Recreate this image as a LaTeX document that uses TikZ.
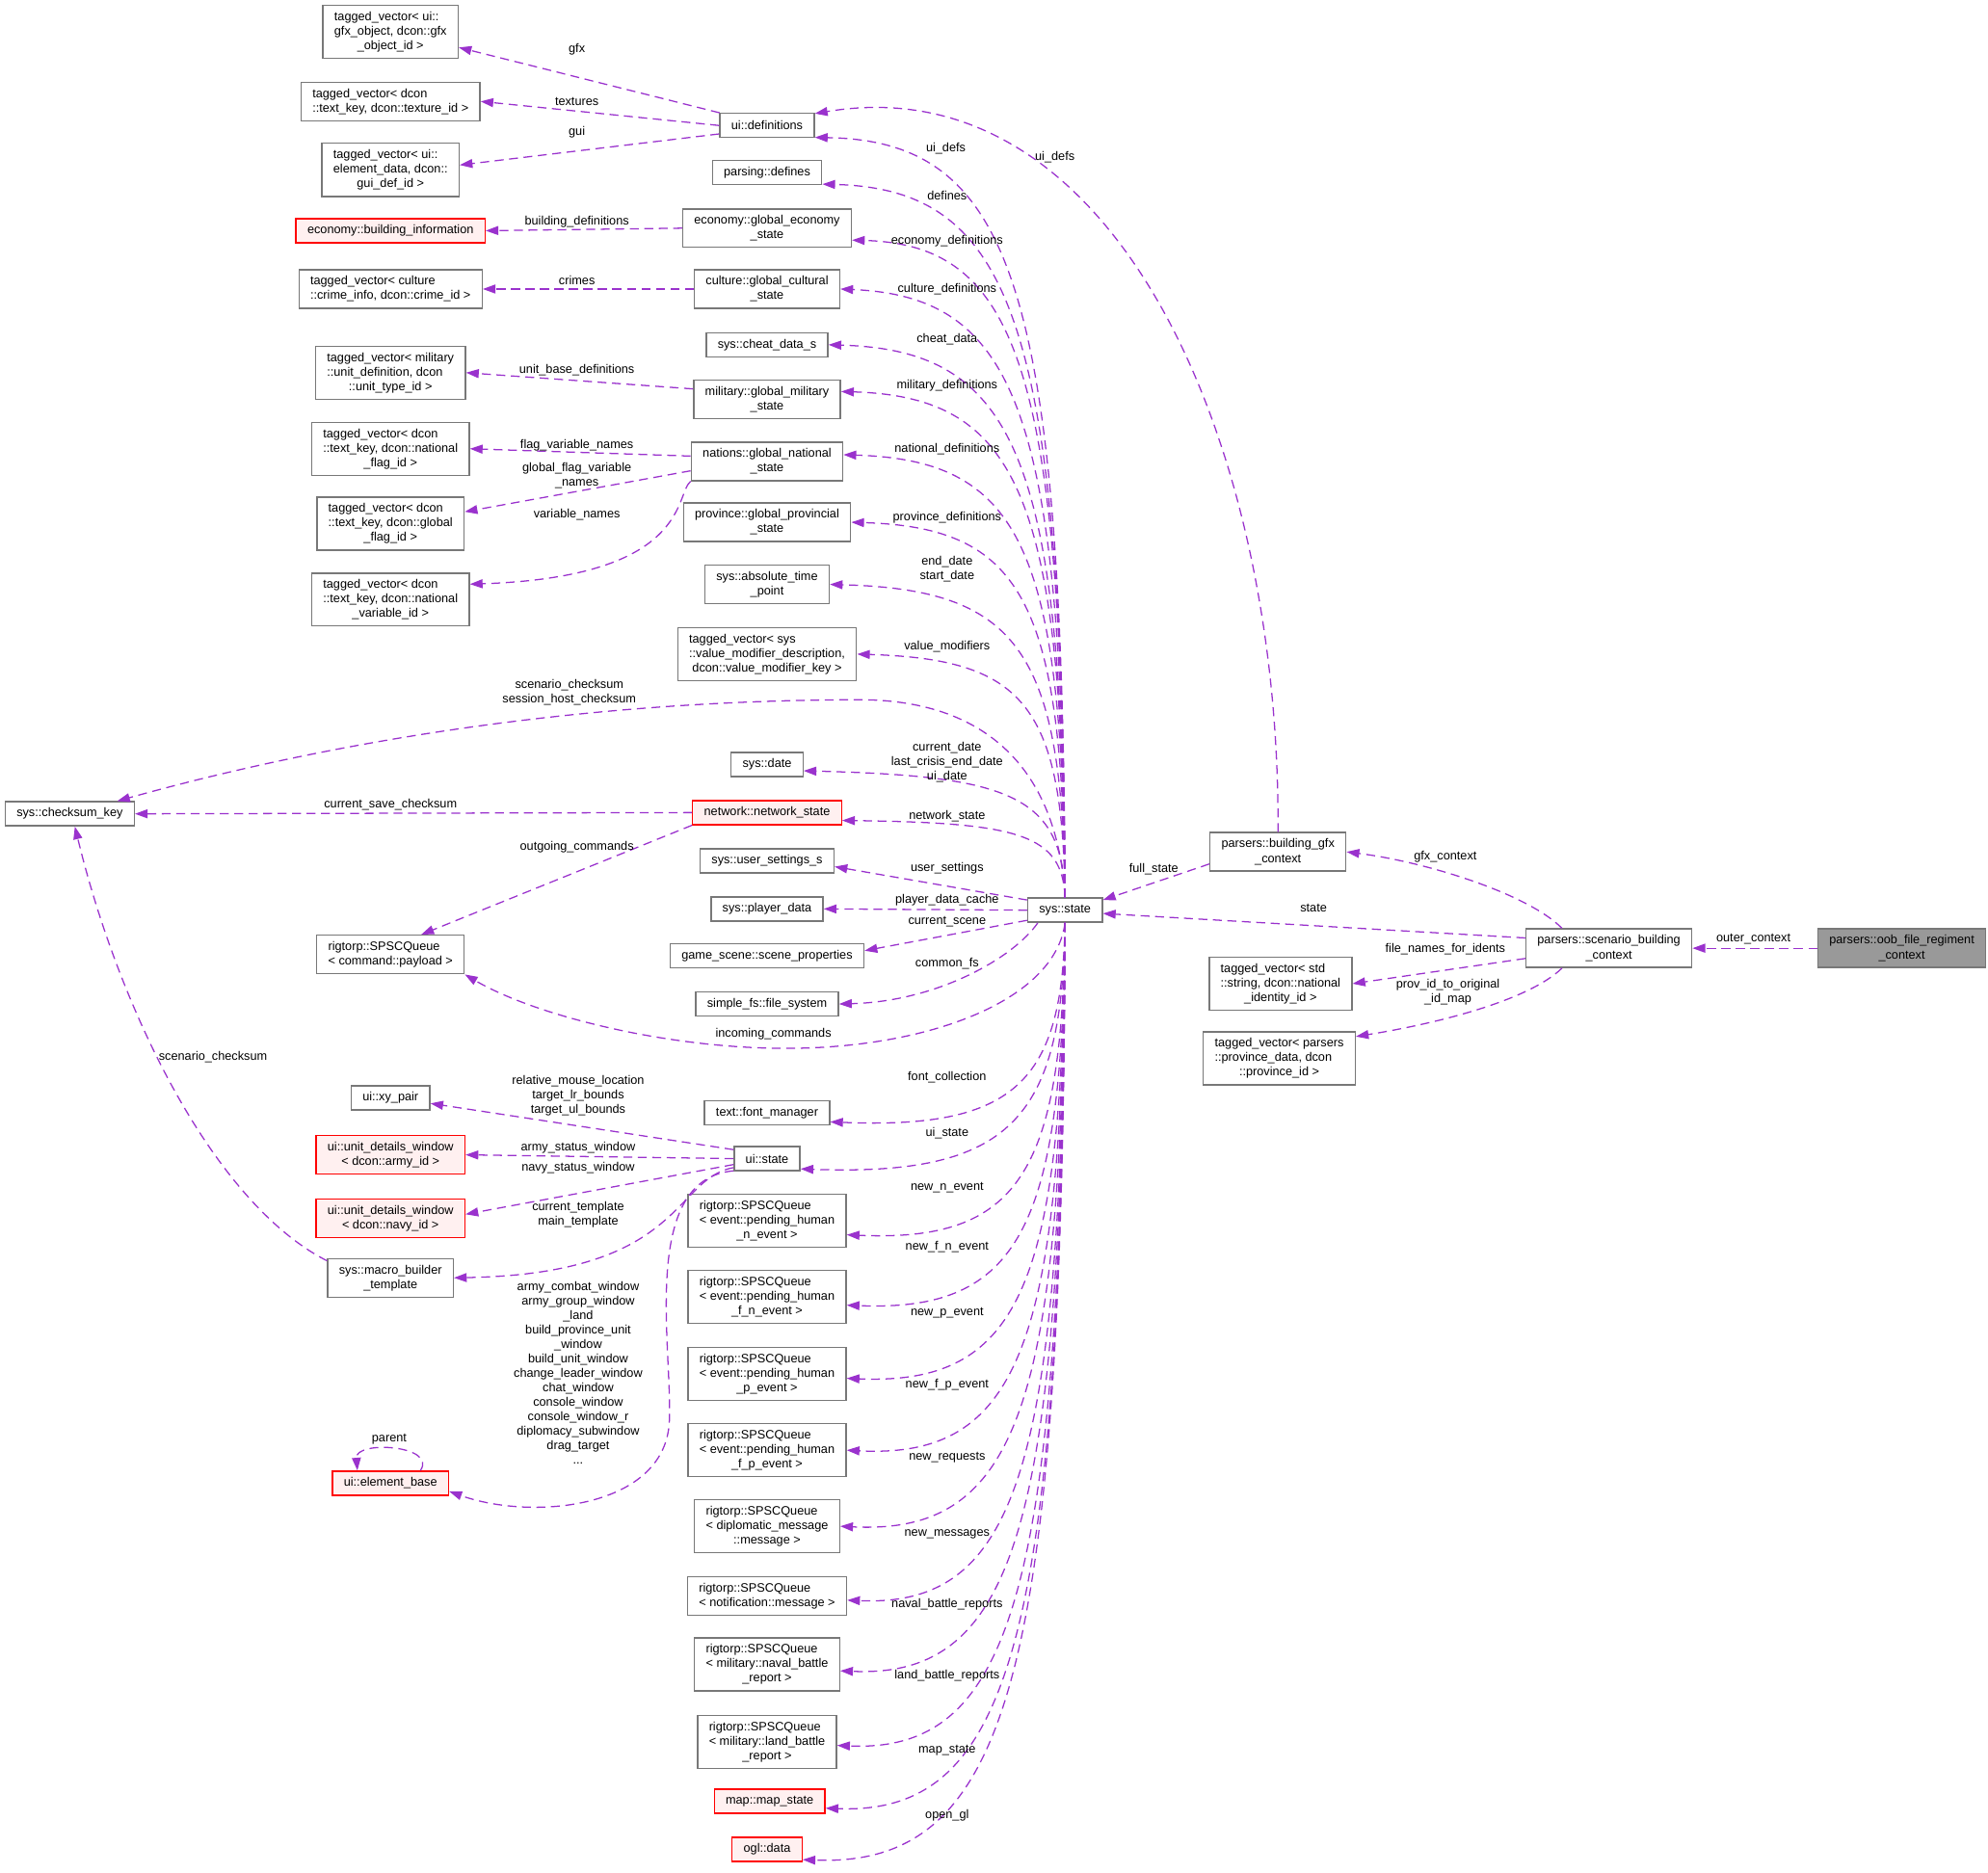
\documentclass[tikz,border=0pt]{standalone}
\usepackage{fontspec}
\setmainfont{Liberation Sans}
\usepackage{tikz}
\usetikzlibrary{arrows.meta,positioning}
\definecolor{edgec}{HTML}{9A32CD}
\definecolor{boxc}{HTML}{787878}
\definecolor{redfill}{HTML}{FFF0F0}
\definecolor{rootfill}{HTML}{999999}
\newcommand{\lastln}[1]{\hfill#1\hfill\null}
\tikzset{
  cls/.style={rectangle,draw=boxc,fill=white,line width=0.6pt,align=left,
    inner xsep=0.18cm,inner ysep=0.1cm,minimum height=0.38cm,
    font=\fontsize{5.5}{6.5}\selectfont},
  undoc/.style={cls,draw=red,fill=redfill},   % classes without docs
  root/.style={cls,fill=rootfill},
  member/.style={-{Triangle[length=0.2cm,width=0.14cm]},draw=edgec,
    line width=0.55pt,dash pattern=on 4pt off 2.5pt},
  lbl/.style={align=center,inner sep=0pt,font=\fontsize{5.5}{6.5}\selectfont},
}

\begin{document}
\begin{tikzpicture}[x=0.02cm,y=-0.02cm]
\useasboundingbox (0,0) rectangle (1568,1477);

% --- left column ---
\node[cls] (gfxvec) at (308,25) {tagged\_vector< ui::\\gfx\_object, dcon::gfx\\\lastln{\_object\_id >}};
\node[cls] (texvec) at (308,80) {tagged\_vector< dcon\\::text\_key, dcon::texture\_id >};
\node[cls] (guivec) at (308,134) {tagged\_vector< ui::\\element\_data, dcon::\\\lastln{gui\_def\_id >}};
\node[undoc] (buildinfo) at (308,182) {economy::building\_information};
\node[cls] (crimevec) at (308,228) {tagged\_vector< culture\\::crime\_info, dcon::crime\_id >};
\node[cls] (unitvec) at (308,294) {tagged\_vector< military\\::unit\_definition, dcon\\\lastln{::unit\_type\_id >}};
\node[cls] (flagvec) at (308,354) {tagged\_vector< dcon\\::text\_key, dcon::national\\\lastln{\_flag\_id >}};
\node[cls] (gflagvec) at (308,413) {tagged\_vector< dcon\\::text\_key, dcon::global\\\lastln{\_flag\_id >}};
\node[cls] (varvec) at (308,473) {tagged\_vector< dcon\\::text\_key, dcon::national\\\lastln{\_variable\_id >}};
\node[cls] (checksum) at (55,642) {sys::checksum\_key};
\node[cls] (cmdq) at (308,753) {rigtorp::SPSCQueue\\< command::payload >};
\node[cls] (xypair) at (308,866) {ui::xy\_pair};
\node[undoc] (armywin) at (308,911) {ui::unit\_details\_window\\\lastln{< dcon::army\_id >}};
\node[undoc] (navywin) at (308,961) {ui::unit\_details\_window\\\lastln{< dcon::navy\_id >}};
\node[cls] (macro) at (308,1008) {sys::macro\_builder\\\lastln{\_template}};
\node[undoc] (elembase) at (308,1170) {ui::element\_base};

% --- middle column ---
\node[cls] (uidefs) at (605,99) {ui::definitions};
\node[cls] (defines) at (605,136) {parsing::defines};
\node[cls] (econ) at (605,180) {economy::global\_economy\\\lastln{\_state}};
\node[cls] (culture) at (605,228) {culture::global\_cultural\\\lastln{\_state}};
\node[cls] (cheat) at (605,272) {sys::cheat\_data\_s};
\node[cls] (milit) at (605,315) {military::global\_military\\\lastln{\_state}};
\node[cls] (nations) at (605,364) {nations::global\_national\\\lastln{\_state}};
\node[cls] (prov) at (605,412) {province::global\_provincial\\\lastln{\_state}};
\node[cls] (abstime) at (605,461) {sys::absolute\_time\\\lastln{\_point}};
\node[cls] (valmod) at (605,516) {tagged\_vector< sys\\::value\_modifier\_description,\\\lastln{dcon::value\_modifier\_key >}};
\node[cls] (date) at (605,603) {sys::date};
\node[undoc] (netstate) at (605,641) {network::network\_state};
\node[cls] (usersettings) at (605,679) {sys::user\_settings\_s};
\node[cls] (playerdata) at (605,717) {sys::player\_data};
\node[cls] (scene) at (605,754) {game\_scene::scene\_properties};
\node[cls] (fs) at (605,792) {simple\_fs::file\_system};
\node[cls] (fontmgr) at (605,878) {text::font\_manager};
\node[cls] (uistate) at (605,914) {ui::state};
\node[cls] (nq) at (605,963) {rigtorp::SPSCQueue\\< event::pending\_human\\\lastln{\_n\_event >}};
\node[cls] (fnq) at (605,1023) {rigtorp::SPSCQueue\\< event::pending\_human\\\lastln{\_f\_n\_event >}};
\node[cls] (pq) at (605,1084) {rigtorp::SPSCQueue\\< event::pending\_human\\\lastln{\_p\_event >}};
\node[cls] (fpq) at (605,1144) {rigtorp::SPSCQueue\\< event::pending\_human\\\lastln{\_f\_p\_event >}};
\node[cls] (diplq) at (605,1204) {rigtorp::SPSCQueue\\< diplomatic\_message\\\lastln{::message >}};
\node[cls] (notifq) at (605,1259) {rigtorp::SPSCQueue\\< notification::message >};
\node[cls] (navalq) at (605,1313) {rigtorp::SPSCQueue\\< military::naval\_battle\\\lastln{\_report >}};
\node[cls] (landq) at (605,1374) {rigtorp::SPSCQueue\\< military::land\_battle\\\lastln{\_report >}};
\node[undoc] (mapst) at (607,1421) {map::map\_state};
\node[undoc] (ogl) at (605,1459) {ogl::data};

% --- right part ---
\node[cls] (state) at (840,718) {sys::state};
\node[cls] (bgfx) at (1008,672) {parsers::building\_gfx\\\lastln{\_context}};
\node[cls] (scen) at (1269,748) {parsers::scenario\_building\\\lastln{\_context}};
\node[root] (oob) at (1500,748) {parsers::oob\_file\_regiment\\\lastln{\_context}};
\node[cls] (identvec) at (1010,776) {tagged\_vector< std\\::string, dcon::national\\\lastln{\_identity\_id >}};
\node[cls] (provvec) at (1009,835) {tagged\_vector< parsers\\::province\_data, dcon\\\lastln{::province\_id >}};

% ui::definitions
\draw[member] (uidefs.165) -- (gfxvec.-13);
\draw[member] (uidefs.west) -- (texvec.east);
\draw[member] (uidefs.190) -- (guivec.4);
\node[lbl] (lgfx) at (455,39) {gfx};
\node[lbl] (ltex) at (455,80) {textures};
\node[lbl] (lgui) at (455,104) {gui};

% sys::state, upper members
\draw[member] (state.north) .. controls (838,227) and (799,111) .. (uidefs.-14);
\node[lbl] (luidefs) at (746,117) {ui\_defs};
\draw[member] (state.north) .. controls (838,258) and (800,149) .. (defines.-12);
\node[lbl] (ldefines) at (747,154) {defines};
\draw[member] (state.north) .. controls (838,293) and (804,193) .. (econ.-8);
\node[lbl] (lecon) at (747,190) {economy\_definitions};
\draw[member] (state.north) .. controls (838,326) and (802,234) .. (culture.east);
\node[lbl] (lculture) at (747,228) {culture\_definitions};
\draw[member] (state.north) .. controls (838,359) and (800,276) .. (cheat.east);
\node[lbl] (lcheat) at (747,268) {cheat\_data};
\draw[member] (state.north) .. controls (838,389) and (802,313) .. (milit.6);
\node[lbl] (lmilit) at (747,304) {military\_definitions};
\draw[member] (state.north) .. controls (838,429) and (803,363) .. (nations.5);
\node[lbl] (lnations) at (747,354) {national\_definitions};
\draw[member] (state.north) .. controls (838,471) and (804,416) .. (prov.east);
\node[lbl] (lprov) at (747,408) {province\_definitions};
\draw[member] (state.north) .. controls (838,510) and (800,465) .. (abstime.east);
\node[lbl] (labstime) at (747,449) {end\_date\\start\_date};
\draw[member] (state.north) .. controls (838,554) and (805,520) .. (valmod.east);
\node[lbl] (lvalmod) at (747,510) {value\_modifiers};
\draw[member] (state.north) .. controls (835,620) and (790,553) .. (680,552)
  .. controls (450,552) and (250,588) .. (checksum.15);
\node[lbl] (lchk) at (449,546) {scenario\_checksum\\session\_host\_checksum};
\draw[member] (state.north) .. controls (838,628) and (797,612) .. (date.-10);
\node[lbl] (ldate) at (747,601) {current\_date\\last\_crisis\_end\_date\\ui\_date};
\draw[member] (state.north) .. controls (838,658) and (803,649) .. (netstate.-6);
\node[lbl] (lnet) at (747,644) {network\_state};
\draw[member] (state.165) -- (usersettings.-5);
\node[lbl] (luser) at (747,685) {user\_settings};
\draw[member] (state.west) -- (playerdata.east);
\node[lbl] (lplayer) at (747,710) {player\_data\_cache};
\draw[member] (state.-165) -- (scene.3);
\node[lbl] (lscene) at (747,727) {current\_scene};
\draw[member] (state.-155) .. controls (800,755) and (740,790) .. (fs.east);
\node[lbl] (lfs) at (747,760) {common\_fs};
\draw[member] (state.south) .. controls (832,790) and (730,828) .. (615,827)
  .. controls (520,826) and (420,800) .. (cmdq.south east);
\node[lbl] (lincoming) at (610,816) {incoming\_commands};

% sys::state, lower members
\draw[member] (state.south) .. controls (838,853) and (801,891) .. (fontmgr.-8);
\node[lbl] (lfont) at (747,850) {font\_collection};
\draw[member] (state.south) .. controls (838,883) and (797,928) .. (uistate.-17);
\node[lbl] (luistate) at (747,894) {ui\_state};
\draw[member] (state.south) .. controls (838,925) and (804,980) .. (nq.-10);
\node[lbl] (lnq) at (747,937) {new\_n\_event};
\draw[member] (state.south) .. controls (838,969) and (804,1035) .. (fnq.-6);
\node[lbl] (lfnq) at (747,984) {new\_f\_n\_event};
\draw[member] (state.south) .. controls (838,1015) and (804,1093) .. (pq.-3);
\node[lbl] (lpq) at (747,1036) {new\_p\_event};
\draw[member] (state.south) .. controls (838,1061) and (804,1151) .. (fpq.east);
\node[lbl] (lfpq) at (747,1092) {new\_f\_p\_event};
\draw[member] (state.south) .. controls (838,1109) and (803,1211) .. (diplq.east);
\node[lbl] (ldipl) at (747,1150) {new\_requests};
\draw[member] (state.south) .. controls (838,1155) and (804,1268) .. (notifq.-3);
\node[lbl] (lnotif) at (747,1210) {new\_messages};
\draw[member] (state.south) .. controls (838,1200) and (803,1324) .. (navalq.-5);
\node[lbl] (lnaval) at (747,1266) {naval\_battle\_reports};
\draw[member] (state.south) .. controls (838,1247) and (802,1383) .. (landq.-3);
\node[lbl] (lland) at (747,1322) {land\_battle\_reports};
\draw[member] (state.south) .. controls (838,1286) and (800,1432) .. (mapst.-7);
\node[lbl] (lmap) at (747,1381) {map\_state};
\draw[member] (state.south) .. controls (838,1319) and (797,1473) .. (ogl.-16);
\node[lbl] (logl) at (747,1432) {open\_gl};

% middle column members
\draw[member] (econ.west) -- (buildinfo.east);
\node[lbl] (lbuild) at (455,175) {building\_definitions};
\draw[member] (culture.west) -- (crimevec.east);
\node[lbl] (lcrimes) at (455,221) {crimes};
\draw[member] (milit.172) -- (unitvec.east);
\node[lbl] (lunit) at (455,292) {unit\_base\_definitions};
\draw[member] (nations.176) -- (flagvec.east);
\node[lbl] (lflag) at (455,351) {flag\_variable\_names};
\draw[member] (nations.187) -- (gflagvec.9);
\node[lbl] (lgflag) at (455,375) {global\_flag\_variable\\\_names};
\draw[member] (nations.south west) .. controls (532,390) and (545,455) .. (varvec.11);
\node[lbl] (lvar) at (455,406) {variable\_names};
\draw[member] (netstate.west) -- (checksum.east);
\node[lbl] (lcursave) at (308,635) {current\_save\_checksum};
\draw[member] (netstate.south west) -- (cmdq.33);
\node[lbl] (lout) at (455,668) {outgoing\_commands};
\draw[member] (macro.165) .. controls (170,950) and (95,800) .. (checksum.-68);
\node[lbl] (lscenchk) at (168,834) {scenario\_checksum};

% ui::state
\draw[member] (uistate.165) -- (xypair.-8);
\node[lbl] (lmouse) at (456,864) {relative\_mouse\_location\\target\_lr\_bounds\\target\_ul\_bounds};
\draw[member] (uistate.west) -- (armywin.east);
\node[lbl] (larmy) at (456,905) {army\_status\_window};
\draw[member] (uistate.-170) -- (navywin.3);
\node[lbl] (lnavy) at (456,921) {navy\_status\_window};
\draw[member] (uistate.-165) .. controls (530,930) and (540,1005) .. (macro.east);
\node[lbl] (ltmpl) at (456,958) {current\_template\\main\_template};
\draw[member] (uistate.-160) .. controls (505,930) and (530,1060) .. (528,1120)
  .. controls (526,1190) and (420,1200) .. (elembase.-8);
\node[lbl] (lwindows) at (456,1083) {army\_combat\_window\\army\_group\_window\\\_land\\build\_province\_unit\\\_window\\build\_unit\_window\\change\_leader\_window\\chat\_window\\console\_window\\console\_window\_r\\diplomacy\_subwindow\\drag\_target\\...};
\draw[member] (elembase.23) .. controls (345,1140) and (280,1136) .. (elembase.159);
\node[lbl] (lparent) at (307,1135) {parent};

% parsers
\draw[member] (bgfx.north) .. controls (1010,350) and (880,50) .. (uidefs.14);
\node[lbl] (luidefs2) at (832,124) {ui\_defs};
\draw[member] (bgfx.-170) -- (state.15);
\node[lbl] (lfull) at (910,686) {full\_state};
\draw[member] (scen.173) -- (state.-5);
\node[lbl] (lstate) at (1036,716) {state};
\draw[member] (scen.157) .. controls (1205,705) and (1125,680) .. (bgfx.east);
\node[lbl] (lgfxctx) at (1140,676) {gfx\_context};
\draw[member] (scen.-173) -- (identvec.east);
\node[lbl] (lidents) at (1140,749) {file\_names\_for\_idents};
\draw[member] (scen.-157) .. controls (1205,790) and (1130,808) .. (provvec.16);
\node[lbl] (lprovid) at (1142,783) {prov\_id\_to\_original\\\_id\_map};
\draw[member] (oob.west) -- (scen.east);
\node[lbl] (louter) at (1383,741) {outer\_context};
\end{tikzpicture}
\end{document}
